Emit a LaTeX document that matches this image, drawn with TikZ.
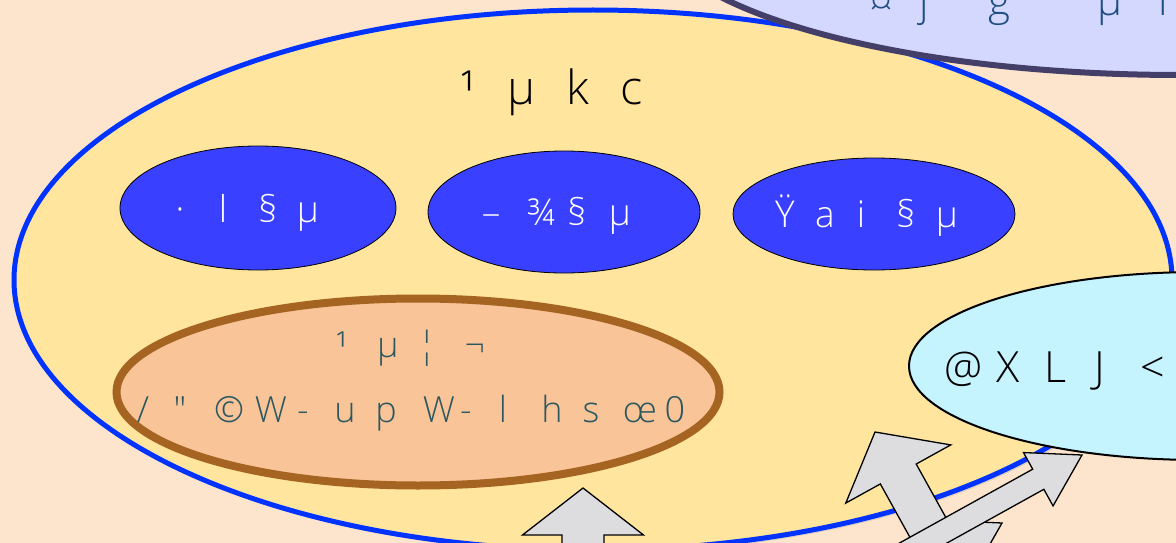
\documentclass[tikz,border=0pt]{standalone}
\usepackage{fontspec}
\setmainfont{Open Sans}[UprightFont={* Light}]
\usetikzlibrary{shapes.geometric}
\definecolor{bgpeach}{RGB}{253,229,205}
\definecolor{outeryellow}{RGB}{255,229,157}
\definecolor{outerblue}{RGB}{0,51,255}
\definecolor{innerblue}{RGB}{57,64,255}
\definecolor{orfill}{RGB}{249,196,152}
\definecolor{ordraw}{RGB}{166,100,35}
\definecolor{ortext}{RGB}{43,88,96}
\definecolor{cyfill}{RGB}{197,244,255}
\definecolor{lavfill}{RGB}{212,216,255}
\definecolor{lavdraw}{RGB}{68,63,105}
\definecolor{toptext}{RGB}{31,78,128}
\definecolor{arrfill}{RGB}{221,221,223}
\newcommand\glyphc[1]{\makebox[0pt]{#1}}
\begin{document}
\begin{tikzpicture}[x=1pt,y=-1pt,
  ell/.style={ellipse, inner sep=0pt, outer sep=0pt},
  lbl/.style={anchor=base west, inner sep=0pt, outer sep=0pt},
  blockarr/.style={fill=arrfill, draw=black, line width=1.3pt, line join=miter},
  bluebox/.style={ell, fill=innerblue, draw=black, line width=0.8pt},
  whitelbl/.style={lbl, text=white, font=\fontsize{37}{40}\selectfont}]
\useasboundingbox (0,0) rectangle (1176,543);
\clip (0,0) rectangle (1176,543);
\fill[bgpeach] (0,0) rectangle (1176,543);
% outer yellow ellipse
\node[ell, fill=black!35, opacity=0.35, minimum width=1158pt, minimum height=540pt] (ysh) at (596,283) {};
\node[ell, fill=outeryellow, draw=outerblue, line width=5pt, minimum width=1158pt, minimum height=540pt] (outer) at (593,280) {};
% lavender ellipse at top right
\node[ell, fill=lavfill, draw=lavdraw, line width=6pt, minimum width=1058pt, minimum height=310pt] (lav) at (1180,-80) {};
\node[lbl, text=toptext, font=\fontsize{42}{44}\selectfont] (lavtxt) at (881,16)
  {\glyphc{¤}\hspace{43pt}\glyphc{j}\hspace{75pt}\glyphc{g}\hspace{111pt}\glyphc{µ}\hspace{53pt}\glyphc{l}};
% title
\node[lbl, text=black, font=\fontsize{47}{50}\selectfont] (title) at (468,105)
  {\glyphc{¹}\hspace{54pt}\glyphc{µ}\hspace{56pt}\glyphc{k}\hspace{54pt}\glyphc{c}};
% three blue ellipses
\node[bluebox, minimum width=276pt, minimum height=124pt] (b1) at (258,208) {};
\node[bluebox, minimum width=272pt, minimum height=122pt] (b2) at (564,212) {};
\node[bluebox, minimum width=282pt, minimum height=112pt] (b3) at (874,214) {};
\node[whitelbl] (b1t) at (180,222)
  {\glyphc{·}\hspace{43pt}\glyphc{l}\hspace{45pt}\glyphc{§}\hspace{40pt}\glyphc{µ}};
\node[whitelbl] (b2t) at (491,225)
  {\glyphc{–}\hspace{50pt}\glyphc{¾}\hspace{36pt}\glyphc{§}\hspace{43pt}\glyphc{µ}};
\node[whitelbl] (b3t) at (785,227)
  {\glyphc{Ÿ}\hspace{40pt}\glyphc{a}\hspace{36pt}\glyphc{i}\hspace{45pt}\glyphc{§}\hspace{41pt}\glyphc{µ}};
% orange ellipse
\node[ell, fill=orfill, draw=ordraw, line width=8pt, minimum width=603pt, minimum height=187pt] (orng) at (418,392) {};
\node[lbl, text=ortext, font=\fontsize{36}{40}\selectfont] (o1) at (342,357)
  {\glyphc{¹}\hspace{46pt}\glyphc{µ}\hspace{39pt}\glyphc{¦}\hspace{48pt}\glyphc{¬}};
\node[lbl, text=ortext, font=\fontsize{36}{40}\selectfont] (o2) at (143,422)
  {\glyphc{/}\hspace{37pt}\glyphc{″}\hspace{49pt}\glyphc{©}\hspace{42pt}\glyphc{W}\hspace{32pt}\glyphc{-}%
   \hspace{42pt}\glyphc{u}\hspace{41pt}\glyphc{p}\hspace{53pt}\glyphc{W}\hspace{27pt}\glyphc{-}%
   \hspace{37pt}\glyphc{l}\hspace{49pt}\glyphc{h}\hspace{39pt}\glyphc{s}\hspace{49pt}\glyphc{œ}\hspace{35pt}\glyphc{0}};
% cyan ellipse
\node[ell, fill=cyfill, draw=black, line width=2pt, minimum width=582pt, minimum height=188pt] (cyan) at (1200,366) {};
\node[lbl, text=black, font=\fontsize{43}{46}\selectfont] (cyt) at (964,382)
  {\glyphc{@}\hspace{44pt}\glyphc{X}\hspace{48pt}\glyphc{L}\hspace{44pt}\glyphc{J}\hspace{53pt}\glyphc{<}};
% block arrows
\begin{scope}[shift={(583,488)}, rotate=90]
  \draw[blockarr] (0,0) -- (-47,60.5) -- (-47,21) -- (-200,21) -- (-200,-21) -- (-47,-21) -- (-47,-60.5) -- cycle;
\end{scope}
\begin{scope}[shift={(875,432)}, rotate=119]
  \draw[blockarr] (0,0) -- (-48,60) -- (-48,20.5) -- (-250,20.5) -- (-250,-20.5) -- (-48,-20.5) -- (-48,-60) -- cycle;
\end{scope}
\begin{scope}[shift={(1002,523)}, rotate=29]
  \draw[blockarr] (0,0) -- (-50,30.5) -- (-50,11.5) -- (-300,11.5) -- (-300,-11.5) -- (-50,-11.5) -- (-50,-30.5) -- cycle;
\end{scope}
\begin{scope}[shift={(1082,455)}, rotate=29]
  \draw[blockarr] (0,0) -- (-50,30.5) -- (-50,11.5) -- (-300,11.5) -- (-300,-11.5) -- (-50,-11.5) -- (-50,-30.5) -- cycle;
\end{scope}
\end{tikzpicture}
\end{document}
